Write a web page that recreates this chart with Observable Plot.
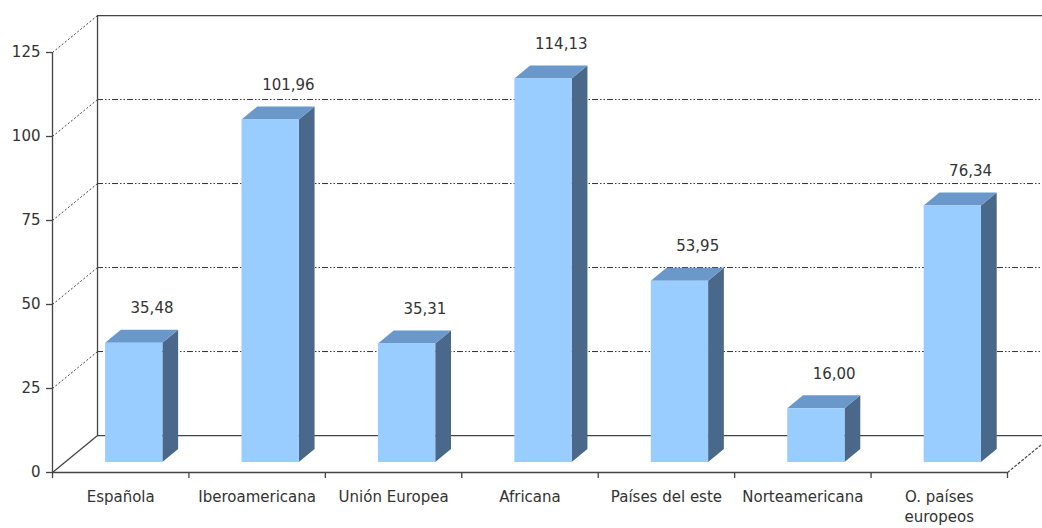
<!DOCTYPE html>
<html>
<head>
<meta charset="utf-8">
<script src="https://cdn.jsdelivr.net/npm/d3@7"></script>
<script src="https://cdn.jsdelivr.net/npm/@observablehq/plot@0.6"></script>
<style>
  html, body { margin: 0; padding: 0; background: #fff; }
</style>
</head>
<body>
<div id="chart"></div>
<script>
const categories = ["Española", "Iberoamericana", "Unión Europea", "Africana", "Países del este", "Norteamericana", "O. países\neuropeos"];
const values = [35.48, 101.96, 35.31, 114.13, 53.95, 16.00, 76.34];
const yTicks = [0, 25, 50, 75, 100, 125];
const gridValues = [25, 50, 75, 100];

// 3D projection (depth expressed in data units of the x and y scales)
const DX = 0.33, DY = 11.0;      // full depth of the chart
const TF = 0.27, TB = 0.62;      // bar front / back depth fraction
const BL = 0.30, BR = 0.72;      // bar left / right inside its category

const n = categories.length;
const bars = categories.map((c, i) => ({c, i, v: values[i]}));
const sideData = bars.flatMap(d => [TF, TB].map(t => ({i: d.i, x: d.i + BR + t * DX, y1: t * DY, y2: d.v + t * DY})));
const topData = bars.flatMap(d => [TF, TB].map(t => ({i: d.i, y: d.v + t * DY, x1: d.i + BL + t * DX, x2: d.i + BR + t * DX})));

const axisColor = "#444";
const textColor = "#333";

const chart = Plot.plot({
  width: 1042,
  height: 528,
  marginLeft: 52,
  marginRight: 35,
  marginTop: 52,
  marginBottom: 56,
  x: {domain: [0, n], axis: null},
  y: {domain: [0, 125], axis: null},
  style: {fontFamily: "DejaVu Sans, Verdana, sans-serif", fontSize: "15px", background: "#fff"},
  marks: [
    // back wall gridlines
    Plot.ruleY(gridValues, {y: d => d + DY, x1: () => DX, x2: () => n + DX + 0.2, stroke: "#333", strokeWidth: 1, strokeDasharray: "6,2,1.5,2,1.5,2"}),
    // left wall diagonals
    Plot.link(yTicks.filter(d => d > 0), {x1: () => 0, y1: d => d, x2: () => DX, y2: d => d + DY, stroke: "#444", strokeDasharray: "2,2"}),
    // back wall frame
    Plot.ruleX([DX], {y1: () => DY, y2: () => 125 + DY, stroke: axisColor, strokeWidth: 1.3}),
    Plot.ruleY([125 + DY], {x1: () => DX, x2: () => n + DX + 0.2, stroke: axisColor, strokeWidth: 1.3}),
    Plot.ruleY([DY], {x1: () => DX, x2: () => n + DX + 0.2, stroke: axisColor, strokeWidth: 1.3}),
    // floor side edges
    Plot.link([0], {x1: () => 0, y1: () => 0, x2: () => DX, y2: () => DY, stroke: axisColor, strokeWidth: 1.3}),
    Plot.link([n], {x1: d => d, y1: () => 0, x2: d => d + DX, y2: () => DY, stroke: axisColor, strokeWidth: 1.2, strokeDasharray: "3,1.5"}),
    // bars: side, top, front faces
    Plot.areaY(sideData, {x: "x", y1: "y1", y2: "y2", z: "i", fill: "#4A6889"}),
    Plot.areaX(topData, {y: "y", x1: "x1", x2: "x2", z: "i", fill: "#6B98CA"}),
    Plot.rect(bars, {x1: d => d.i + BL + TF * DX, x2: d => d.i + BR + TF * DX, y1: () => TF * DY, y2: d => d.v + TF * DY, fill: "#99CCFF"}),
    // front axes
    Plot.ruleX([0], {y1: () => 0, y2: () => 125, stroke: axisColor, strokeWidth: 1.3}),
    Plot.ruleY([0], {x1: () => 0, x2: () => n, stroke: axisColor, strokeWidth: 1.3}),
    Plot.ruleY(yTicks, {x1: () => -6 * n / 955, x2: () => 0, stroke: axisColor, strokeWidth: 1.3}),
    Plot.ruleX(d3.range(n + 1), {y1: () => -6 * 125 / 420, y2: () => 0, stroke: axisColor, strokeWidth: 1.3}),
    // tick labels
    Plot.text(yTicks, {x: () => 0, y: d => d, text: d => String(d), dx: -12, textAnchor: "end", fill: textColor}),
    Plot.text(bars, {x: d => d.i + 0.5, y: () => 0, text: "c", dy: 16, lineAnchor: "top", lineHeight: 1.3, fill: textColor}),
    // value labels
    Plot.text(bars, {x: d => d.i + (BL + BR) / 2 + TB * DX, y: d => d.v + TB * DY, text: d => d.v.toFixed(2).replace(".", ","), dx: 2, dy: -22, fill: textColor})
  ]
});
document.getElementById("chart").appendChild(chart);
</script>
</body>
</html>
